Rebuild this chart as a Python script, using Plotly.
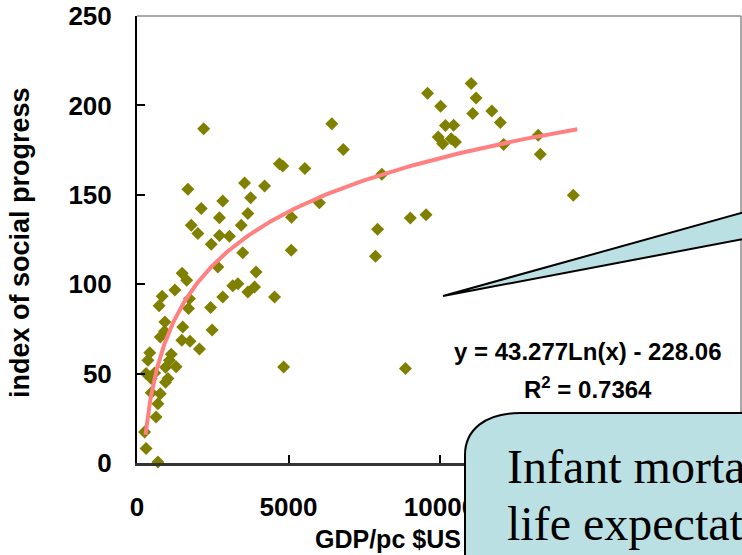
import numpy as np
import plotly.graph_objects as go

# GDP per capita (US$) and index of social progress, one entry per country
gdp_pc = [9590, 11030, 11190, 10020, 11710, 11080, 11990, 10180, 10450, 9940,
          10090, 10370, 10510, 12100, 13240, 13310, 14400, 6430, 6810, 4700,
          4810, 5540, 4210, 3550, 3750, 8080, 6020, 9020, 9540, 8860,
          2200, 1680, 2830, 2120, 2720, 1790, 2010, 3440, 3660, 2720,
          3050, 2450, 3490, 2670, 3660, 1490, 1640, 1250, 830, 730,
          1730, 1700, 2830, 3160, 3330, 2430, 2480, 1510, 920, 910,
          770, 1480, 1750, 2060, 420, 360, 1130, 1070, 1290, 940,
          580, 300, 470, 1020, 940, 470, 770, 690, 630, 250,
          300, 690, 4840, 5090, 4540, 3930, 3880, 5100, 7870, 7940]
social_index = [206.8, 212.2, 204.1, 199.5, 196.9, 195.4, 190.5, 188.7, 188.9, 182.3,
                178.6, 181.4, 179.5, 178.2, 183.3, 172.7, 149.7, 189.8, 175.4, 167.4,
                166.1, 164.7, 154.9, 156.6, 148.4, 161.5, 145.5, 137.0, 138.9, 52.8,
                187.0, 153.1, 146.6, 142.3, 137.2, 132.9, 128.3, 132.9, 139.5, 127.3,
                126.8, 122.3, 117.6, 109.6, 95.6, 106.1, 102.2, 96.8, 93.2, 88.0,
                91.9, 86.4, 92.8, 99.1, 100.3, 86.9, 74.4, 76.1, 78.9, 73.7,
                70.5, 68.6, 68.1, 63.8, 61.6, 57.4, 60.8, 57.4, 53.8, 53.5,
                50.4, 50.0, 47.2, 47.2, 45.1, 39.3, 38.8, 33.2, 25.7, 17.3,
                8.1, 0.5, 53.7, 119.0, 92.8, 106.8, 98.4, 137.4, 115.6, 130.7]

# Logarithmic trend: y = a*ln(x) + b
trend_a = 43.277
trend_b = -228.06
trend_r2 = 0.7364
trend_x_min, trend_x_max = 280, 14530

x_ticks = [0, 5000, 10000]
y_ticks = [0, 50, 100, 150, 200, 250]

W, H = 742, 555
ML, MR, MT, MB = 137, 1, 16, 92
PW, PH = W - ML - MR, H - MT - MB


def px(xp):
    return (xp - ML) / PW


def py(yp):
    return (H - MB - yp) / PH


trend_x = np.geomspace(trend_x_min, trend_x_max, 200)
trend_y = trend_a * np.log(trend_x) + trend_b

fig = go.Figure()
fig.add_trace(go.Scatter(
    x=gdp_pc, y=social_index, mode="markers",
    marker=dict(symbol="diamond", size=10, color="#808000", line=dict(width=0)),
    cliponaxis=False, showlegend=False,
))
fig.add_trace(go.Scatter(
    x=trend_x, y=trend_y, mode="lines",
    line=dict(color="#FF8080", width=4),
    showlegend=False,
))

tick_font = dict(family="Liberation Sans, Arial, sans-serif", size=26, color="black", weight="bold")

fig.update_xaxes(
    range=[0, PW / 151.5 * 5000], tickvals=x_ticks, ticktext=[str(v) for v in x_ticks],
    showgrid=False, zeroline=False, showline=True, linecolor="#333333", linewidth=2.5,
    ticks="inside", ticklen=8, tickwidth=1.5, tickcolor="black",
    tickfont=tick_font, ticklabelstandoff=19,
)
fig.update_yaxes(
    range=[0, 250], tickvals=y_ticks, ticktext=[str(v) for v in y_ticks],
    showgrid=False, zeroline=False, showline=True, linecolor="black", linewidth=2,
    ticks="inside", ticklen=8, tickwidth=1.5, tickcolor="black",
    tickfont=tick_font, ticklabelstandoff=18,
)

box_fill = "#BBE0E3"
shapes = [
    # plot-area frame on top and right
    dict(type="line", xref="paper", yref="paper", x0=0, x1=1, y0=1, y1=1,
         line=dict(color="#8C8C8C", width=1.5), layer="above"),
    dict(type="line", xref="paper", yref="paper", x0=1, x1=1, y0=py(413), y1=1,
         line=dict(color="#8C8C8C", width=1.5), layer="above"),
    # pointer wedge of the off-page callout
    dict(type="path", xref="paper", yref="paper",
         path=f"M {px(443)},{py(296)} L {px(770)},{py(205)} L {px(770)},{py(234)} Z",
         fillcolor=box_fill, line=dict(color="black", width=2), layer="above"),
    # rounded callout box
    dict(type="path", xref="paper", yref="paper",
         path=(f"M {px(465)},{py(600)} L {px(465)},{py(455)} "
               f"C {px(465)},{py(430)} {px(485)},{py(413)} {px(520)},{py(413)} "
               f"L {px(800)},{py(413)} L {px(800)},{py(600)} Z"),
         fillcolor=box_fill, line=dict(color="black", width=2), layer="above"),
]

eq_font = dict(family="Liberation Sans, Arial, sans-serif", size=24, color="black", weight="bold")
serif = dict(family="Liberation Serif, Times New Roman, serif", size=48, color="black")
annotations = [
    dict(text=f"y = {trend_a}Ln(x) - {abs(trend_b):.2f}", x=px(588), y=py(351),
         xref="paper", yref="paper", showarrow=False, font=eq_font,
         xanchor="center", yanchor="middle"),
    dict(text=f"R<sup>2</sup> = {trend_r2}", x=px(588), y=py(388),
         xref="paper", yref="paper", showarrow=False, font=eq_font,
         xanchor="center", yanchor="middle"),
    dict(text="index of social progress", x=px(20), y=py(243), textangle=-90,
         xref="paper", yref="paper", showarrow=False,
         font=dict(family="Liberation Sans, Arial, sans-serif", size=27, color="black", weight="bold"),
         xanchor="center", yanchor="middle"),
    dict(text="GDP/pc $US", x=px(313), y=py(539),
         xref="paper", yref="paper", showarrow=False,
         font=dict(family="Liberation Sans, Arial, sans-serif", size=25, color="black", weight="bold"),
         xanchor="left", yanchor="middle"),
    dict(text="Infant mortality and", x=px(505), y=py(466),
         xref="paper", yref="paper", showarrow=False, font=serif,
         xanchor="left", yanchor="middle"),
    dict(text="life expectation", x=px(505), y=py(523),
         xref="paper", yref="paper", showarrow=False, font=serif,
         xanchor="left", yanchor="middle"),
]

fig.update_layout(
    width=W, height=H,
    margin=dict(l=ML, r=MR, t=MT, b=MB),
    paper_bgcolor="white", plot_bgcolor="white",
    shapes=shapes, annotations=annotations,
    showlegend=False,
)

fig.write_html("out.html")
